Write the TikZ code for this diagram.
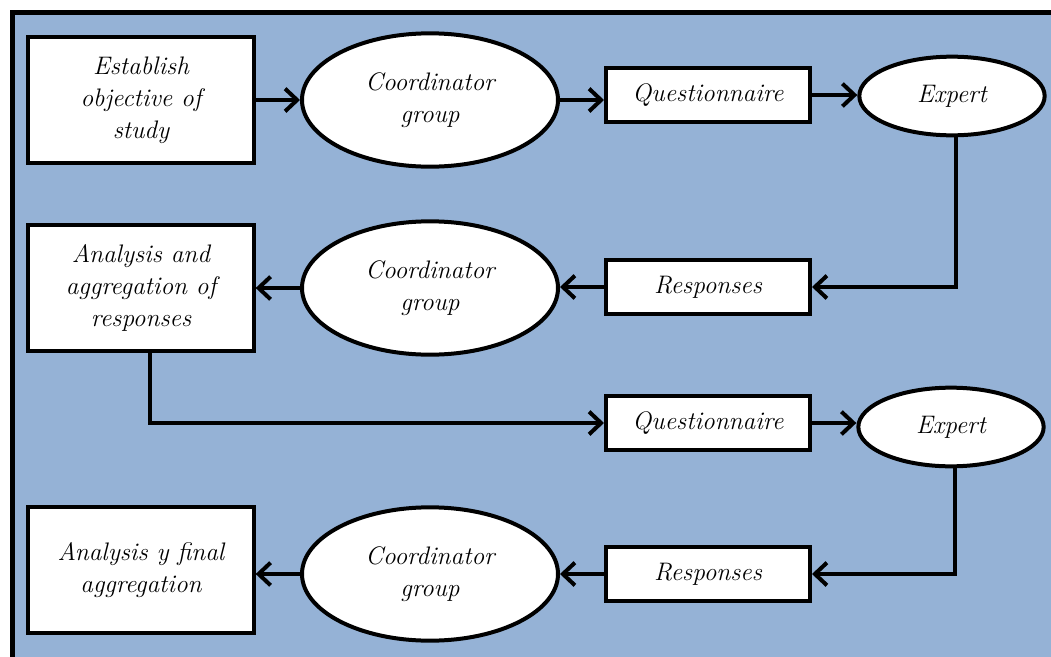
\documentclass[tikz,border=0pt]{standalone}
\usetikzlibrary{shapes.geometric,arrows.meta}
\definecolor{fondo}{RGB}{149,178,214}
\tikzset{
  caja/.style={draw,fill=white,line width=3pt,align=center,
    font=\itshape\fontsize{19}{24}\selectfont},
  grande/.style={caja,minimum width=169pt,minimum height=94pt},
  chica/.style={caja,minimum width=153pt,minimum height=41pt},
  elipse/.style={caja,ellipse,minimum width=192pt,minimum height=100pt,inner sep=0pt},
  experto/.style={caja,ellipse,minimum width=139pt,minimum height=59pt,inner sep=0pt},
  flecha/.style={line width=3pt,-{Straight Barb[length=9pt,width=17pt]}}
}
\begin{document}
\begin{tikzpicture}[x=0.75pt,y=-0.75pt]
    % Marco
    \clip (0,0) rectangle (1051,657);
    \draw[fill=fondo,line width=3.75pt] (12.5,12) rectangle (1080,700);

    % Fila 1
    \node[grande]  (objetivo) at (141,100) {Establish\\objective of\\study};
    \node[elipse]  (coord1)   at (430,100) {Coordinator\\group};
    \node[chica]   (cuest1)   at (708,95)  {Questionnaire};
    \node[experto] (experto1) at (952,96)  {Expert};

    % Fila 2
    \node[grande]  (analisis) at (141,288) {Analysis and\\aggregation of\\responses};
    \node[elipse]  (coord2)   at (430,288) {Coordinator\\group};
    \node[chica]   (resp1)    at (708,287) {Responses};

    % Fila 3
    \node[chica]   (cuest2)   at (708,423) {Questionnaire};
    \node[experto] (experto2) at (951,427) {Expert};

    % Fila 4
    \node[grande]  (final)    at (141,570) {Analysis y final\\aggregation};
    \node[elipse]  (coord3)   at (430,574) {Coordinator\\group};
    \node[chica]   (resp2)    at (708,574) {Responses};

    % Flechas
    \draw[flecha] (objetivo.east) -- (objetivo.east -| coord1.west);
    \draw[flecha] (coord1.east) -- (coord1.east -| cuest1.west);
    \draw[flecha] (cuest1.east) -- (cuest1.east -| experto1.west);
    \draw[flecha] ([xshift=3pt]experto1.south) |- (resp1.east);
    \draw[flecha] (resp1.west) -- (resp1.west -| coord2.east);
    \draw[flecha] (coord2.west) -- (coord2.west -| analisis.east);
    \draw[flecha] ([xshift=7pt]analisis.south) |- (cuest2.west);
    \draw[flecha] (cuest2.east) -- (cuest2.east -| experto2.west);
    \draw[flecha] ([xshift=3pt]experto2.south) |- (resp2.east);
    \draw[flecha] (resp2.west) -- (resp2.west -| coord3.east);
    \draw[flecha] (coord3.west) -- (coord3.west -| final.east);
\end{tikzpicture}
\end{document}
